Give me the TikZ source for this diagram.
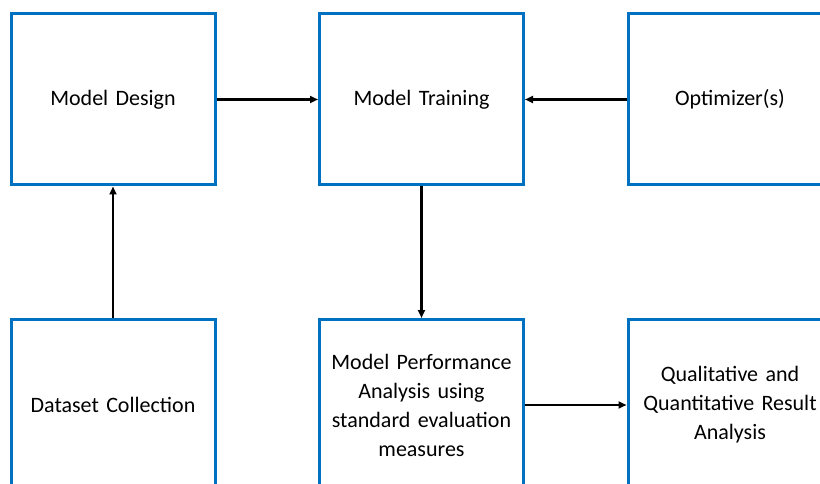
\documentclass[tikz,border=0pt]{standalone}
\usepackage{fontspec}
\setmainfont{Carlito}
\usetikzlibrary{arrows.meta}
\definecolor{boxblue}{RGB}{0,112,192}
\begin{document}
\begin{tikzpicture}[x=1pt,y=-1pt,
  box/.style={draw=boxblue,line width=3pt,fill=white,minimum width=204pt,minimum height=171pt,
    align=center,inner sep=0pt,font=\fontsize{22pt}{29pt}\selectfont,text width=198pt},
  conn/.style={line width=2.2pt,-{Triangle[length=8pt,width=7pt]}}]
\useasboundingbox (0,0) rectangle (820,484);
\clip (0,0) rectangle (820,484);
\fill[white] (0,0) rectangle (820,484);
\node[box] (design) at (113,99.5) {Model Design};
\node[box] (train) at (421.5,99.5) {Model Training};
\node[box] (opt) at (730,99.5) {Optimizer(s)};
\node[box] (data) at (113,405) {Dataset Collection};
\node[box] (perf) at (421.5,405) {Model Performance\\Analysis using\\standard evaluation\\measures};
\node[box] (qual) at (730,405) {Qualitative and\\Quantitative Result\\Analysis};
\draw[conn] (design.east) -- (train.west);
\draw[conn] (opt.west) -- (train.east);
\draw[conn] (train.south) -- (perf.north);
\draw[conn] (data.north) -- (design.south);
\draw[conn] (perf.east) -- (qual.west);
\end{tikzpicture}
\end{document}
